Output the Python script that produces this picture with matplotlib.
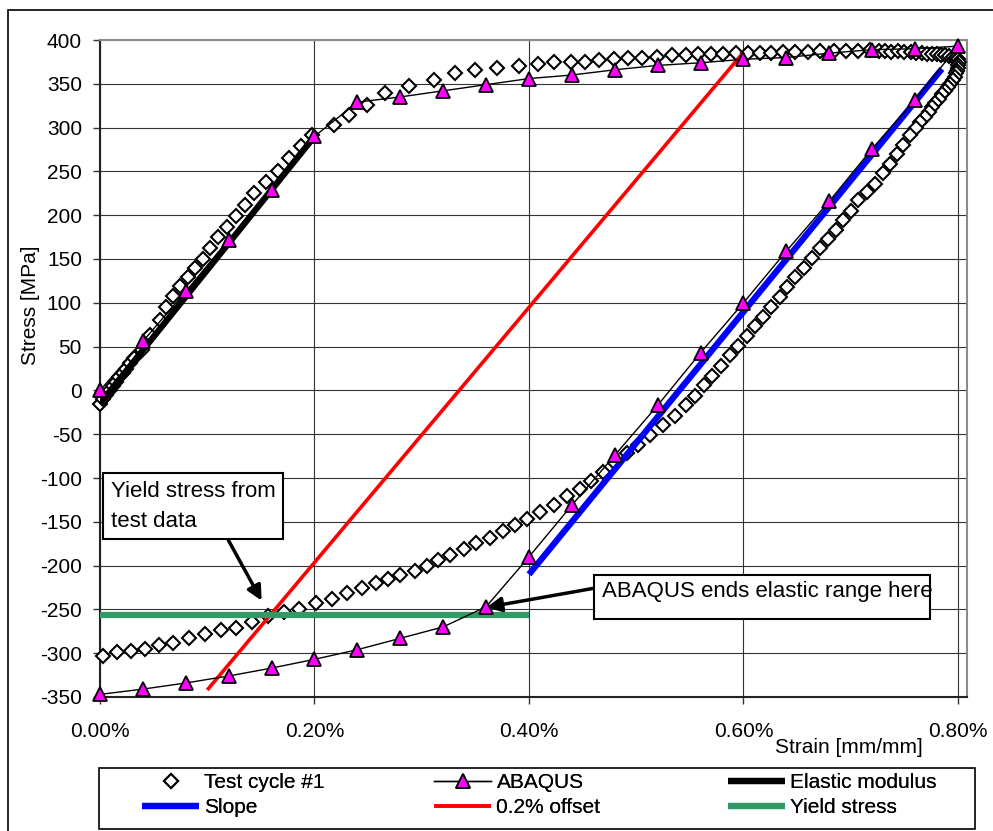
import matplotlib
matplotlib.use("Agg")
import matplotlib.pyplot as plt
from matplotlib.patches import Rectangle
from matplotlib.ticker import MultipleLocator, FuncFormatter

plt.rcParams['font.family'] = ['Liberation Sans', 'DejaVu Sans']

# Test cycle #1: strain [%], stress [MPa] (loading then unloading branch)
test_strain = [
    0.000, 0.003, 0.006, 0.009, 0.012, 0.015, 0.018, 0.021, 0.024, 0.028,
    0.032, 0.039, 0.047, 0.056, 0.062, 0.068, 0.075, 0.082, 0.089, 0.096,
    0.103, 0.110, 0.118, 0.127, 0.135, 0.144, 0.155, 0.166, 0.176, 0.187,
    0.198, 0.218, 0.232, 0.249, 0.266, 0.288, 0.311, 0.331, 0.350, 0.370,
    0.391, 0.408, 0.423, 0.439, 0.452, 0.465, 0.479, 0.492, 0.505, 0.519,
    0.533, 0.546, 0.558, 0.570, 0.581, 0.593, 0.604, 0.615, 0.626, 0.637,
    0.648, 0.660, 0.671, 0.684, 0.696, 0.707, 0.718, 0.726, 0.732, 0.738,
    0.744, 0.750, 0.756, 0.761, 0.766, 0.771, 0.776, 0.780, 0.784, 0.788,
    0.792, 0.795, 0.798, 0.800, 0.801, 0.800, 0.800, 0.799, 0.798, 0.797,
    0.795, 0.793, 0.791, 0.788, 0.785, 0.782, 0.779, 0.776, 0.773, 0.769,
    0.765, 0.761, 0.755, 0.749, 0.743, 0.737, 0.730, 0.723, 0.715, 0.707,
    0.700, 0.693, 0.686, 0.679, 0.671, 0.664, 0.656, 0.648, 0.641, 0.634,
    0.626, 0.618, 0.611, 0.603, 0.595, 0.587, 0.579, 0.571, 0.563, 0.555,
    0.546, 0.536, 0.525, 0.513, 0.502, 0.491, 0.480, 0.469, 0.458, 0.448,
    0.435, 0.423, 0.410, 0.398, 0.387, 0.376, 0.364, 0.351, 0.339, 0.326,
    0.315, 0.305, 0.294, 0.280, 0.269, 0.257, 0.244, 0.230, 0.216, 0.201,
    0.186, 0.172, 0.157, 0.142, 0.127, 0.113, 0.098, 0.083, 0.068, 0.055,
    0.042, 0.029, 0.016, 0.003,
]
test_stress = [
    -15, -10, -5, 0, 5, 10, 15, 20, 25, 31,
    37, 46, 63, 80, 95, 108, 119, 129, 140, 150,
    163, 175, 187, 199, 212, 225, 238, 251, 265, 279,
    291, 303, 314, 326, 339, 347, 354, 362, 366, 368,
    370, 373, 375, 375, 375, 377, 378, 379, 379, 381,
    383, 383, 384, 384, 384, 385, 385, 385, 385, 386,
    386, 386, 387, 388, 388, 388, 389, 388, 387, 386,
    387, 386, 386, 385, 385, 384, 384, 384, 383, 383,
    382, 381, 380, 378, 375, 372, 368, 365, 362, 358,
    354, 350, 346, 342, 338, 333, 328, 323, 318, 312,
    306, 300, 291, 280, 270, 259, 248, 236, 227, 217,
    205, 194, 183, 173, 162, 151, 140, 130, 118, 107,
    95, 84, 74, 62, 51, 40, 28, 17, 6, -6,
    -17, -29, -40, -51, -62, -72, -83, -93, -103, -112,
    -121, -131, -139, -147, -154, -161, -168, -174, -181, -188,
    -194, -200, -206, -211, -215, -220, -225, -231, -238, -243,
    -249, -253, -257, -264, -271, -274, -278, -283, -288, -291,
    -295, -297, -299, -303,
]

# ABAQUS result, one point every 0.04 % strain
abaqus_strain = [
    0.00, 0.04, 0.08, 0.12, 0.16, 0.20, 0.24, 0.28, 0.32, 0.36, 0.40,
    0.44, 0.48, 0.52, 0.56, 0.60, 0.64, 0.68, 0.72, 0.76, 0.80,
    0.76, 0.72, 0.68, 0.64, 0.60, 0.56, 0.52, 0.48, 0.44, 0.40,
    0.36, 0.32, 0.28, 0.24, 0.20, 0.16, 0.12, 0.08, 0.04, 0.00,
]
abaqus_stress = [
    0, 56, 113, 172, 229, 290, 329, 335, 342, 349, 356,
    360, 366, 371, 374, 378, 380, 385, 389, 390, 393,
    332, 276, 216, 159, 100, 43, -17, -74, -131, -190,
    -247, -270, -283, -296, -307, -317, -326, -334, -341, -347,
]

# helper lines
elastic_strain = [0.0, 0.20]
elastic_stress = [-15, 290]
slope_strain = [0.40, 0.785]
slope_stress = [-210, 367]
offset_strain = [0.10, 0.60]
offset_stress = [-342, 386]
yield_strain = [0.0, 0.40]
yield_stress = [-256, -256]

W, H = 993, 831
fig = plt.figure(figsize=(W / 100, H / 100), dpi=100)


def fx(px):
    return px / W


def fy(py):
    return 1 - py / H


# outer chart frame
fig.patches.append(Rectangle((fx(8), fy(900)), fx(1100), fy(10) - fy(900),
                             transform=fig.transFigure, fill=False,
                             edgecolor='black', lw=1.2, clip_on=False))

ax = fig.add_axes([fx(100), fy(697), fx(967) - fx(100), fy(40) - fy(697)])

test_line, = ax.plot(test_strain, test_stress, ls='none', marker='D', ms=6.8,
                     mfc='white', mec='black', mew=1.5, zorder=3, clip_on=False,
                     label='Test cycle #1')
elastic_line, = ax.plot(elastic_strain, elastic_stress, color='black', lw=4.5,
                        solid_capstyle='butt', zorder=4, label='Elastic modulus')
slope_line, = ax.plot(slope_strain, slope_stress, color='#0000FF', lw=4.5,
                      solid_capstyle='butt', zorder=4, label='Slope')
offset_line, = ax.plot(offset_strain, offset_stress, color='#FF0000', lw=2.6,
                       solid_capstyle='butt', zorder=4, label='0.2% offset')
yield_line, = ax.plot(yield_strain, yield_stress, color='#339966', lw=4.5,
                      solid_capstyle='butt', zorder=4, label='Yield stress')
abaqus_line, = ax.plot(abaqus_strain, abaqus_stress, color='black', lw=1.0,
                       marker='^', ms=10, mfc='#FF00FF', mec='black', mew=1.3,
                       zorder=5, clip_on=False, label='ABAQUS')

ax.set_xlim(0, 0.8084)
ax.set_ylim(-350, 400)
ax.xaxis.set_major_locator(MultipleLocator(0.2))
ax.yaxis.set_major_locator(MultipleLocator(50))
ax.xaxis.set_major_formatter(FuncFormatter(lambda v, p: f"{v:.2f}%"))
ax.yaxis.set_major_formatter(FuncFormatter(lambda v, p: f"{v:.0f}"))
ax.tick_params(axis='both', labelsize=15, direction='out', length=5, width=1,
               color='#333333')
ax.tick_params(axis='x', pad=13)
ax.tick_params(axis='y', pad=8)
ax.grid(True, color='#333333', lw=0.8)
ax.set_axisbelow(True)
for side in ('left', 'bottom'):
    ax.spines[side].set_color('#222222')
    ax.spines[side].set_linewidth(1.5)
for side in ('top', 'right'):
    ax.spines[side].set_color('#8c8c8c')
    ax.spines[side].set_linewidth(1.5)

fig.text(fx(30), fy(305), 'Stress [MPa]', rotation=90, ha='center',
         va='center', fontsize=15)
fig.text(fx(849), fy(753), 'Strain [mm/mm]', ha='center', va='baseline',
         fontsize=15)

# callout: yield stress from the test data
fig.patches.append(Rectangle((fx(103), fy(539)), fx(283) - fx(103),
                             fy(473) - fy(539), transform=fig.transFigure,
                             facecolor='white', edgecolor='black', lw=1.5,
                             zorder=6))
fig.text(fx(111), fy(497), 'Yield stress from', fontsize=16, va='baseline',
         zorder=7)
fig.text(fx(111), fy(527), 'test data', fontsize=16, va='baseline', zorder=7)
ax.annotate('', xy=(0.1507, -240), xytext=(0.1197, -171),
            arrowprops=dict(arrowstyle='-|>', color='black', lw=2.5,
                            mutation_scale=22, shrinkA=0, shrinkB=0),
            zorder=7, annotation_clip=False)

# callout: where ABAQUS leaves the elastic range
fig.patches.append(Rectangle((fx(594), fy(619)), fx(930) - fx(594),
                             fy(575) - fy(619), transform=fig.transFigure,
                             facecolor='white', edgecolor='black', lw=1.5,
                             zorder=6))
fig.text(fx(602), fy(597), 'ABAQUS ends elastic range here', fontsize=16,
         va='baseline', zorder=7)
ax.annotate('', xy=(0.3605, -247.6), xytext=(0.46, -226),
            arrowprops=dict(arrowstyle='-|>', color='black', lw=2.5,
                            mutation_scale=22, shrinkA=0, shrinkB=0),
            zorder=7, annotation_clip=False)

# legend box with three columns
fig.patches.append(Rectangle((fx(99), fy(829)), fx(975) - fx(99),
                             fy(768) - fy(829), transform=fig.transFigure,
                             facecolor='white', edgecolor='black', lw=1.2))
columns = [
    (142, [test_line, slope_line]),
    (434, [abaqus_line, offset_line]),
    (728, [elastic_line, yield_line]),
]
for x0, handles in columns:
    leg = fig.legend(handles=handles, labels=[h.get_label() for h in handles],
                     loc='center left', bbox_to_anchor=(fx(x0), fy(795)),
                     frameon=False, borderpad=0, borderaxespad=0,
                     handlelength=2.75, handletextpad=0.25, labelspacing=0.3,
                     fontsize=15)
    fig.add_artist(leg)

fig.savefig('out.png', dpi=100)
